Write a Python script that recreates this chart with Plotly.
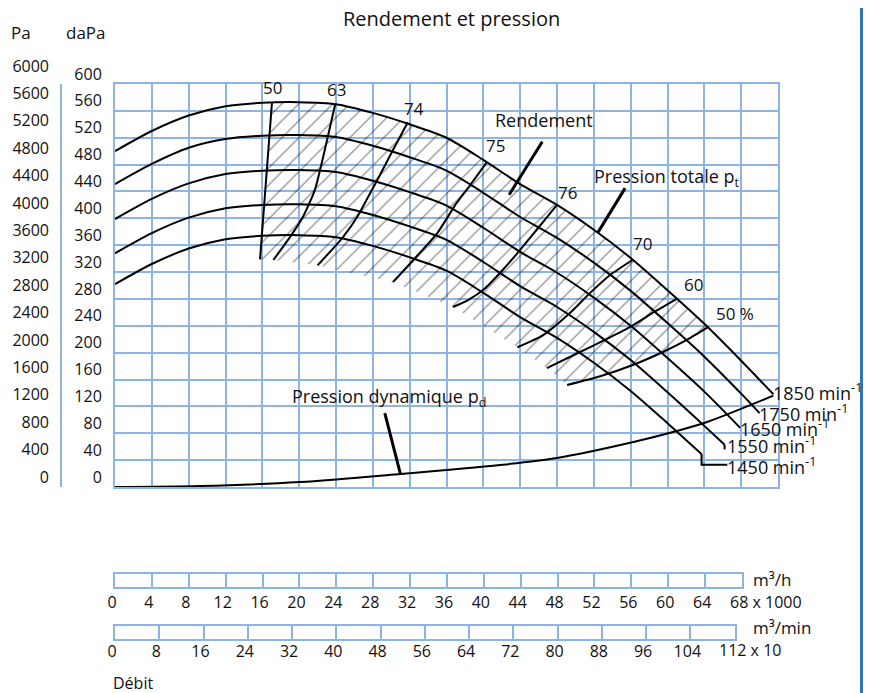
import plotly.graph_objects as go
import numpy as np

# ---------------- data (flow in 1000 m3/h, pressure in daPa) ----------------
flow_q = [0, 4, 8, 12, 16, 20, 24, 28, 32, 36, 40, 44, 48, 52, 56, 60, 64, 68, 71.5]

q_1850 = flow_q
p_1850 = [500, 530, 553, 567, 572, 573, 570, 557, 540, 520, 487, 451, 420, 383, 341, 293, 243, 188, 138]

q_1750 = [0, 4, 8, 12, 16, 20, 24, 28, 32, 36, 40, 44, 48, 52, 56, 60, 64, 68, 70.0]
p_1750 = [451, 481, 505, 518, 523, 524, 521, 508, 491, 471, 438, 402, 371, 334, 292, 244, 194, 139, 110]

q_1650 = [0, 4, 8, 12, 16, 20, 24, 28, 32, 36, 40, 44, 48, 52, 56, 60, 64, 67.9]
p_1650 = [399, 429, 452, 466, 471, 472, 469, 456, 439, 419, 386, 350, 319, 282, 240, 192, 142, 88]

q_1550 = [0, 4, 8, 12, 16, 20, 24, 28, 32, 36, 40, 44, 48, 52, 56, 60, 64, 66.2]
p_1550 = [348, 378, 401, 415, 420, 421, 418, 405, 388, 368, 335, 299, 268, 231, 189, 141, 91, 63]

q_1450 = [0, 4, 8, 12, 16, 20, 24, 28, 32, 36, 40, 44, 48, 52, 56, 60, 63.7]
p_1450 = [302, 332, 355, 369, 374, 375, 372, 359, 342, 322, 289, 253, 222, 185, 143, 95, 49]

hook_1550_q = [66.2, 66.2]
hook_1550_p = [63, 56]
hook_1450_q = [63.7, 63.7, 66.5]
hook_1450_p = [49, 33, 33]

speed_labels = ["1850 min<sup>-1</sup>", "1750 min<sup>-1</sup>", "1650 min<sup>-1</sup>",
                "1550 min<sup>-1</sup>", "1450 min<sup>-1</sup>"]
speed_label_q = [71.4, 69.8, 67.8, 66.4, 66.4]
speed_label_p = [141, 110, 88, 62, 31]

q_dyn = [0, 9.2, 20.1, 31.0, 41.8, 48.0, 56.3, 61.0, 64.3, 71.5]
p_dyn = [0, 1.5, 7.4, 19.4, 32.8, 43.2, 67, 83.4, 96.8, 136]

# iso-efficiency lines (top point first)
iso_names = ["50", "63", "74", "75", "76", "70", "60", "50 %"]
iso_q = [
    [17.05, 15.75],
    [23.9, 22.6, 21.7, 20.4, 19.0, 17.2],
    [31.8, 30.2, 28.6, 27.5, 26.3, 24.7, 22.0],
    [40.4, 38.6, 37.1, 35.0, 32.4, 30.2],
    [48.0, 45.8, 44.0, 42.1, 40.2, 38.3, 36.7],
    [56.2, 53.8, 51.6, 49.4, 46.5, 43.7],
    [61.1, 58.6, 55.9, 53.2, 50.5, 46.9],
    [64.4, 62.1, 59.5, 56.3, 52.7, 49.1],
]
iso_p = [
    [573, 339],
    [569, 491, 442, 402, 372, 338],
    [543, 502, 460, 432, 402, 371, 330],
    [484, 450, 423, 378, 338, 305],
    [420, 383, 353, 323, 296, 278, 268],
    [338, 316, 289, 259, 226, 208],
    [281, 261, 238, 219, 201, 177],
    [238, 219, 201, 182, 165, 152],
]
iso_label_q = [17.05, 24.1, 32.5, 41.3, 49.1, 57.3, 62.8, 67.3]
iso_label_p = [595, 592, 564, 509, 439, 362, 302, 258]

lead_rend_q, lead_rend_p = [46.4, 42.8], [514, 435]
lead_pt_q, lead_pt_p = [55.4, 52.4], [445, 378]
lead_pd_q, lead_pd_p = [29.3, 31.0], [110, 19]

pa_ticks = list(range(0, 6001, 400))
dapa_ticks = list(range(0, 601, 40))
m3h_ticks = list(range(0, 65, 4))
m3min_ticks = list(range(0, 105, 8))

# ---------------- layout helpers (screen pixels -> paper) ----------------
PAGE_OFF = 8            # default body margin of the html page
L_SCR, R_SCR, T_SCR, B_SCR = 8, 778, 40, 655
def fx(px):
    return (px - L_SCR) / (R_SCR - L_SCR)
def fy(py):
    return (B_SCR - py) / (B_SCR - T_SCR)

GRID = "#8DB4E2"
INK = "#111111"
FONT = "Open Sans"

fig = go.Figure()

# hatched high-efficiency zone built from the curves above
top_pts = [(q, p) for q, p in zip(q_1850, p_1850) if iso_q[0][0] < q < iso_q[-1][0]]
poly_q = [iso_q[0][1], iso_q[0][0]] + [t[0] for t in top_pts] + iso_q[-1]
poly_p = [iso_p[0][1], iso_p[0][0]] + [t[1] for t in top_pts] + iso_p[-1]
for k in range(len(iso_q) - 2, 0, -1):
    poly_q.append(iso_q[k][-1])
    poly_p.append(iso_p[k][-1])
poly_q.append(iso_q[0][1])
poly_p.append(iso_p[0][1])
fig.add_trace(go.Scatter(x=poly_q, y=poly_p, mode="lines", fill="toself",
                         line=dict(width=0, color="rgba(0,0,0,0)"),
                         fillcolor="rgba(0,0,0,0)",
                         fillpattern=dict(shape="/", size=12, solidity=0.1,
                                          fgcolor="#000000", bgcolor="rgba(0,0,0,0)"),
                         hoverinfo="skip", showlegend=False))

for qs, ps in [(q_1850, p_1850), (q_1750, p_1750), (q_1650, p_1650),
               (q_1550, p_1550), (q_1450, p_1450), (q_dyn, p_dyn)]:
    fig.add_trace(go.Scatter(x=qs, y=ps, mode="lines",
                             line=dict(color="black", width=2, shape="spline", smoothing=0.8),
                             hoverinfo="skip", showlegend=False))
for qs, ps in [(hook_1550_q, hook_1550_p), (hook_1450_q, hook_1450_p)]:
    fig.add_trace(go.Scatter(x=qs, y=ps, mode="lines", line=dict(color="black", width=2),
                             hoverinfo="skip", showlegend=False))
for qs, ps in zip(iso_q, iso_p):
    fig.add_trace(go.Scatter(x=qs, y=ps, mode="lines",
                             line=dict(color="black", width=2, shape="spline", smoothing=0.6),
                             hoverinfo="skip", showlegend=False))
for qs, ps in [(lead_rend_q, lead_rend_p), (lead_pt_q, lead_pt_p), (lead_pd_q, lead_pd_p)]:
    fig.add_trace(go.Scatter(x=qs, y=ps, mode="lines", line=dict(color="black", width=3),
                             hoverinfo="skip", showlegend=False))

# dummy traces for auxiliary axes
fig.add_trace(go.Scatter(x=[None], y=[None], xaxis="x5", yaxis="y2", showlegend=False, hoverinfo="skip"))
fig.add_trace(go.Scatter(x=[None], y=[None], xaxis="x2", yaxis="y3", showlegend=False, hoverinfo="skip"))
fig.add_trace(go.Scatter(x=[None], y=[None], xaxis="x3", yaxis="y4", showlegend=False, hoverinfo="skip"))

ann = []
def add_text(text, x, y, xref="paper", yref="paper", xanchor="center", size=18, xshift=0):
    ann.append(dict(text=text, x=x, y=y, xref=xref, yref=yref, xanchor=xanchor, yanchor="middle",
                    showarrow=False, xshift=xshift, borderpad=0,
                    font=dict(family=FONT, size=size, color=INK)))

add_text("Rendement et pression", fx(451), fy(19), size=20)
add_text("Pa", fx(10), fy(32), xanchor="left", size=17)
add_text("daPa", fx(65), fy(32), xanchor="left", size=17)
for name, q, p in zip(iso_names, iso_label_q, iso_label_p):
    add_text(name, q, p, "x", "y", size=17)
add_text("Rendement", 41.2, 546, "x", "y", xanchor="left")
add_text("Pression totale p<sub>t</sub>", 51.9, 461, "x", "y", xanchor="left")
add_text("Pression dynamique p<sub>d</sub>", 19.1, 134, "x", "y", xanchor="left")
for t, q, p in zip(speed_labels, speed_label_q, speed_label_p):
    add_text(t, q, p, "x", "y", xanchor="left")
add_text("68 x 1000", 68, fy(602), "x2", "paper", xanchor="left", size=16, xshift=-13)
add_text("112 x 10", 112, fy(650), "x3", "paper", xanchor="left", size=16, xshift=-17)
add_text("m³/h", fx(752), fy(579), xanchor="left", size=17)
add_text("m³/min", fx(752), fy(627), xanchor="left", size=17)
add_text("Débit", fx(112), fy(683), xanchor="left", size=16)

axis_common = dict(showgrid=True, gridcolor=GRID, gridwidth=2, showline=True, mirror=True,
                   linecolor=GRID, linewidth=2, zeroline=False, ticks="")
fig.update_layout(
    width=872, height=693,
    margin=dict(l=L_SCR - PAGE_OFF, r=872 - (R_SCR - PAGE_OFF), t=T_SCR - PAGE_OFF,
                b=693 - (B_SCR - PAGE_OFF), autoexpand=False),
    paper_bgcolor="white", plot_bgcolor="rgba(0,0,0,0)",
    showlegend=False,
    font=dict(family=FONT, size=17, color=INK),
    xaxis=dict(domain=[fx(115), 1], range=[0, 72], dtick=4, tick0=0, showticklabels=False,
               anchor="y", **axis_common),
    yaxis=dict(domain=[fy(487), fy(84)], range=[0, 600], tickvals=dapa_ticks, anchor="x",
               ticklabelshift=-10, ticklabelstandoff=8,
               tickfont=dict(family=FONT, size=16, color=INK), **axis_common),
    xaxis5=dict(domain=[fx(61), fx(62)], range=[0, 1], visible=False, anchor="y2"),
    yaxis2=dict(domain=[fy(477), fy(66)], range=[0, 6000], tickvals=pa_ticks, anchor="x5",
                showgrid=False, showline=False, zeroline=False, ticks="", ticklabelstandoff=11,
                tickfont=dict(family=FONT, size=16, color=INK)),
    xaxis2=dict(domain=[fx(115), fx(742)], range=[0, 68], tickvals=m3h_ticks, anchor="y3",
                tickfont=dict(family=FONT, size=16, color=INK), ticklabelshift=-3, **axis_common),
    yaxis3=dict(domain=[fy(587), fy(574)], range=[0, 1], anchor="x2", showgrid=False, showline=True,
                mirror=True, linecolor=GRID, linewidth=2, showticklabels=False, zeroline=False, ticks=""),
    xaxis3=dict(domain=[fx(115), fx(734.6)], range=[0, 112], tickvals=m3min_ticks, anchor="y4",
                tickfont=dict(family=FONT, size=16, color=INK), ticklabelshift=-3,
                ticklabelstandoff=-3, **axis_common),
    yaxis4=dict(domain=[fy(639), fy(626)], range=[0, 1], anchor="x3", showgrid=False, showline=True,
                mirror=True, linecolor=GRID, linewidth=2, showticklabels=False, zeroline=False, ticks=""),
    annotations=ann,
    shapes=[
        dict(type="line", xref="paper", yref="paper", x0=fx(61), x1=fx(61), y0=fy(487), y1=fy(84),
             line=dict(color=GRID, width=2)),
        dict(type="line", xref="paper", yref="paper", x0=fx(861.5), x1=fx(861.5), y0=fy(700), y1=fy(0),
             line=dict(color="#2E75B6", width=3)),
    ],
)

fig.write_html("out.html")
